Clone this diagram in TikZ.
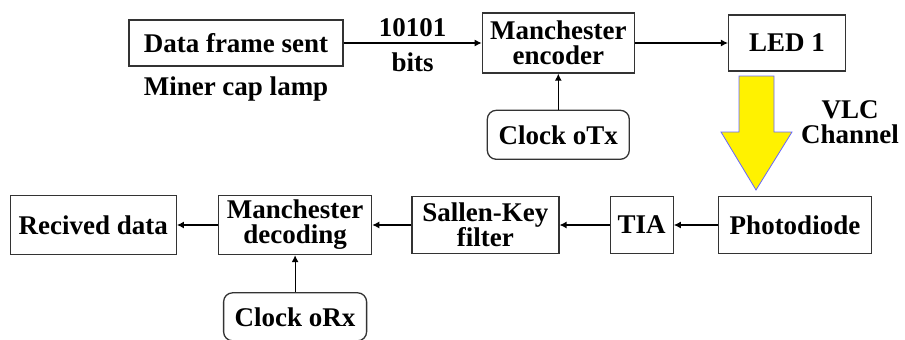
\documentclass[tikz,border=0pt]{standalone}
\usepackage{fontspec}
\setmainfont{Liberation Serif}
\usetikzlibrary{arrows.meta,positioning}

\begin{document}
\begin{tikzpicture}[
    x = 1pt, y = -1pt, % pixel units, y going down
    > = {Latex[length=7pt,width=7pt]}, % arrow head style
    line width = 1.2pt % line style
    ]

    \tikzset{
    block/.style = {draw = black!80, line width = 1.3pt, fill = white, align = center,
        inner sep = 0pt, font = \bfseries\fontsize{27}{25}\selectfont},
    clock/.style = {block, rounded corners = 9pt},
    txt/.style = {align = center, inner sep = 0pt, font = \bfseries\fontsize{27}{25}\selectfont}
    }
    \useasboundingbox (0,0) rectangle (905,340);

    % transmitter
    \node[block, minimum width=214pt, minimum height=46pt] (data) at (236,43) {Data frame sent};
    \node[txt] (lamp) [below=10pt of data] {Miner cap lamp};
    \node[block, minimum width=152pt, minimum height=60pt] (enc) [right=138pt of data] {Manchester\\encoder};
    \node[block, minimum width=117pt, minimum height=56pt] (led) [right=93pt of enc] {LED 1};
    \node[clock, minimum width=142pt, minimum height=49pt] (clktx) [below=36pt of enc] {Clock oTx};

    % receiver
    \node[block, minimum width=153pt, minimum height=57pt] (photo) at (795,225) {Photodiode};
    \node[block, minimum width=63pt, minimum height=57pt] (tia) [left=44pt of photo] {TIA};
    \node[block, minimum width=147pt, minimum height=57pt] (sk) [left=50pt of tia] {Sallen-Key\\filter};
    \node[block, minimum width=153pt, minimum height=59pt] (dec) [left=39pt of sk] {Manchester\\decoding};
    \node[block, minimum width=166pt, minimum height=59pt] (rx) [left=41pt of dec] {Recived data};
    \node[clock, minimum width=143pt, minimum height=48pt] (clkrx) [below=37pt of dec] {Clock oRx};

    % optical channel
    \draw[fill = yellow, draw = blue!60!white, line width = 0.8pt]
        (739,76) -- (774,76) -- (774,132) -- (792,132) -- (756,190)
        -- (721,132) -- (739,132) -- cycle;
    \node[txt] (vlc) at (850,122) {VLC\\Channel};

    \path[->] (data) edge node[txt, above=6pt]{10101} node[txt, below=9pt]{bits} (enc);
    \path[->] (enc) edge (led);
    \path[->] (clktx) edge (enc);
    \path[->] (photo) edge (tia);
    \path[->] (tia) edge (sk);
    \path[->] (sk) edge (dec);
    \path[->] (dec) edge (rx);
    \path[->] (clkrx) edge (dec);
\end{tikzpicture}
\end{document}
